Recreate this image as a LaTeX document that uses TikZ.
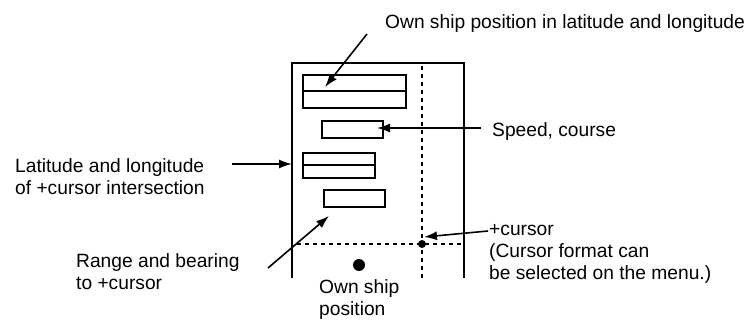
\documentclass[tikz,border=0pt]{standalone}
\usepackage{fontspec}
\setmainfont{Liberation Sans}
\usetikzlibrary{arrows.meta}
\begin{document}
\begin{tikzpicture}[x=1pt,y=-1pt,
  lbl/.style={inner sep=0pt, anchor=north west, align=left, font=\fontsize{19.2}{22}\selectfont},
  frameline/.style={line width=2.1pt},
  field/.style={draw, line width=1.8pt, inner sep=0pt, anchor=north west},
  pointer/.style={-{Latex[length=13pt,width=9pt]}, line width=1.6pt},
  dotline/.style={line width=1.7pt, dash pattern=on 4pt off 4pt}]
\useasboundingbox (0,0) rectangle (752,320);
% frame (open at the bottom)
\draw[frameline] (292,278) -- (292,63) -- (464,63) -- (464,278);
% cursor lines
\draw[dotline] (422,66) -- (422,278);
\draw[dotline] (297,244) -- (461,244);
% data fields
\node (b1) [field, minimum width=103pt, minimum height=33pt] at (302,74) {};
\draw[line width=1.8pt] (b1.west) -- (b1.east);
\node (b2) [field, minimum width=61pt, minimum height=17pt] at (321,120) {};
\node (b3) [field, minimum width=72pt, minimum height=25pt] at (302,152) {};
\draw[line width=1.8pt] (b3.west) -- (b3.east);
\node (b4) [field, minimum width=61pt, minimum height=17pt] at (323,189) {};
% dots
\node (cur) [circle, fill, inner sep=0pt, minimum size=8pt] at (422,244) {};
\node (own) [circle, fill, inner sep=0pt, minimum size=12pt] at (359,265) {};
% labels
\node (tOwnLL) [lbl] at (385,12.6) {\strut Own ship position in latitude and longitude};
\node (tSpeed) [lbl] at (492,120.6) {\strut Speed, course};
\node (tLat) [lbl] at (15,156.6) {\strut Latitude and longitude\\of +cursor intersection};
\node (tRange) [lbl] at (76,251.6) {\strut Range and bearing\\to +cursor};
\node (tCur) [lbl] at (489,219.6) {\strut +cursor\\(Cursor format can\\be selected on the menu.)};
\node (tOwn) [lbl] at (319,278) {\strut Own ship\\position};
% connector ends
\coordinate (sOwnLL) at (367,34);
\coordinate (eOwnLL) at (325,87);
\coordinate (sSpeed) at (481,128);
\coordinate (eSpeed) at (377,128);
\coordinate (sLat) at (232,164);
\coordinate (eLat) at (292,164);
\coordinate (sRange) at (268,268);
\coordinate (eRange) at (329,216);
\coordinate (sCur) at (488,231);
\coordinate (eCur) at (424,237);
% arrows
\draw[pointer] (sOwnLL) -- (eOwnLL);
\draw[pointer] (sSpeed) -- (eSpeed);
\draw[pointer] (sLat) -- (eLat);
\draw[pointer] (sRange) -- (eRange);
\draw[pointer] (sCur) -- (eCur);
\end{tikzpicture}
\end{document}
